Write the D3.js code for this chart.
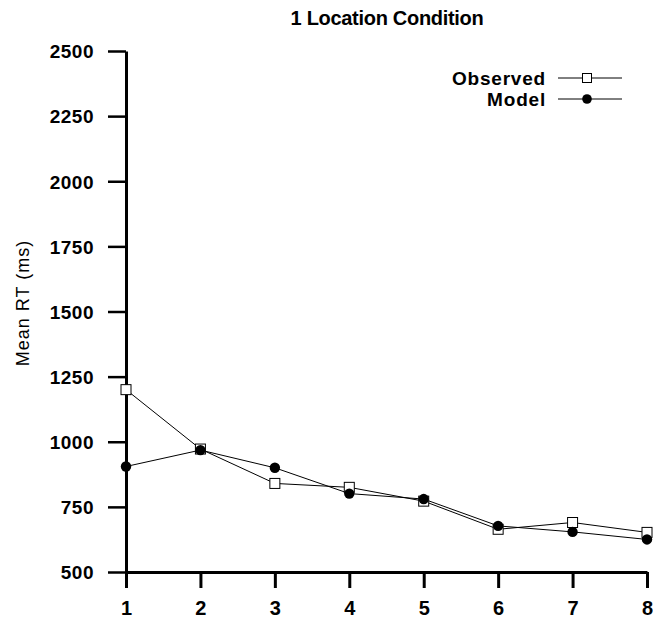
<!DOCTYPE html>
<html>
<head>
<meta charset="utf-8">
<script src="https://cdn.jsdelivr.net/npm/d3@7"></script>
<style>
  html, body { margin: 0; padding: 0; background: #fff; }
  svg { display: block; }
  text { font-family: "Liberation Sans", Arial, Helvetica, sans-serif; fill: #000; }
</style>
</head>
<body>
<svg id="chart" width="653" height="622"></svg>
<script>
// Serial position (1–8) and mean response times in ms
const positions = [1, 2, 3, 4, 5, 6, 7, 8];
const observedRT = [1200, 972, 840, 825, 772, 664, 690, 652];
const modelRT = [905, 968, 900, 801, 780, 677, 654, 625];
const yTicks = [500, 750, 1000, 1250, 1500, 1750, 2000, 2250, 2500];
const seriesNames = ["Observed", "Model"];
const titleText = "1 Location Condition";
const yLabelText = "Mean RT (ms)";

const svg = d3.select("#chart");

const x = d3.scaleLinear().domain([1, 8]).range([126, 647]);
const y = d3.scaleLinear().domain([500, 2500]).range([572, 51]);

// Title
svg.append("text")
  .attr("x", 387).attr("y", 25)
  .attr("text-anchor", "middle")
  .style("font-size", "20px").style("font-weight", "bold")
  .style("letter-spacing", "-0.3px")
  .text(titleText);

// Y axis
const yAxis = svg.append("g")
  .attr("transform", `translate(${x(1)},0)`)
  .call(d3.axisLeft(y).tickValues(yTicks).tickFormat(d3.format("d"))
    .tickSizeInner(18).tickSizeOuter(0).tickPadding(14));
yAxis.select(".domain").attr("stroke", "#000").attr("stroke-width", 3);
yAxis.selectAll(".tick line").attr("stroke", "#000").attr("stroke-width", 2.5);
yAxis.selectAll(".tick text")
  .style("font-size", "19px").style("font-weight", "bold")
  .style("letter-spacing", "0.5px")
  .attr("dy", "0.36em");

// X axis
const xAxis = svg.append("g")
  .attr("transform", `translate(0,${y(500)})`)
  .call(d3.axisBottom(x).tickValues(positions).tickFormat(d3.format("d"))
    .tickSizeInner(16).tickSizeOuter(0).tickPadding(13));
xAxis.select(".domain").attr("stroke", "#000").attr("stroke-width", 3);
xAxis.selectAll(".tick line").attr("stroke", "#000").attr("stroke-width", 3);
xAxis.selectAll(".tick text")
  .style("font-size", "20px").style("font-weight", "bold");

// Y axis label
svg.append("text")
  .attr("transform", `translate(29,303) rotate(-90)`)
  .attr("text-anchor", "middle")
  .style("font-size", "18px")
  .style("letter-spacing", "1px")
  .text(yLabelText);

// Series
const line = d3.line().x((d, i) => x(positions[i])).y(d => y(d));

svg.append("path").datum(observedRT)
  .attr("d", line).attr("fill", "none").attr("stroke", "#000").attr("stroke-width", 1);
svg.append("path").datum(modelRT)
  .attr("d", line).attr("fill", "none").attr("stroke", "#000").attr("stroke-width", 1);

svg.selectAll("rect.obs").data(observedRT).enter().append("rect")
  .attr("class", "obs")
  .attr("x", (d, i) => x(positions[i]) - 5)
  .attr("y", d => y(d) - 5)
  .attr("width", 10).attr("height", 10)
  .attr("fill", "#fff").attr("stroke", "#000").attr("stroke-width", 1);

svg.selectAll("circle.mod").data(modelRT).enter().append("circle")
  .attr("class", "mod")
  .attr("cx", (d, i) => x(positions[i]))
  .attr("cy", d => y(d))
  .attr("r", 5.2)
  .attr("fill", "#000");

// Legend
const legend = svg.append("g");
const legRows = [78, 99];
seriesNames.forEach((name, i) => {
  const ly = legRows[i];
  legend.append("text")
    .attr("x", 546).attr("y", ly).attr("dy", "0.36em")
    .attr("text-anchor", "end")
    .style("font-size", "19px").style("font-weight", "bold")
    .style("letter-spacing", "0.8px")
    .text(name);
  legend.append("line")
    .attr("x1", 558).attr("x2", 622).attr("y1", ly).attr("y2", ly)
    .attr("stroke", "#000").attr("stroke-width", 1);
  if (i === 0) {
    legend.append("rect")
      .attr("x", 587 - 4.5).attr("y", ly - 4.5)
      .attr("width", 9).attr("height", 9)
      .attr("fill", "#fff").attr("stroke", "#000").attr("stroke-width", 1);
  } else {
    legend.append("circle")
      .attr("cx", 587).attr("cy", ly).attr("r", 4.8).attr("fill", "#000");
  }
});
</script>
</body>
</html>
